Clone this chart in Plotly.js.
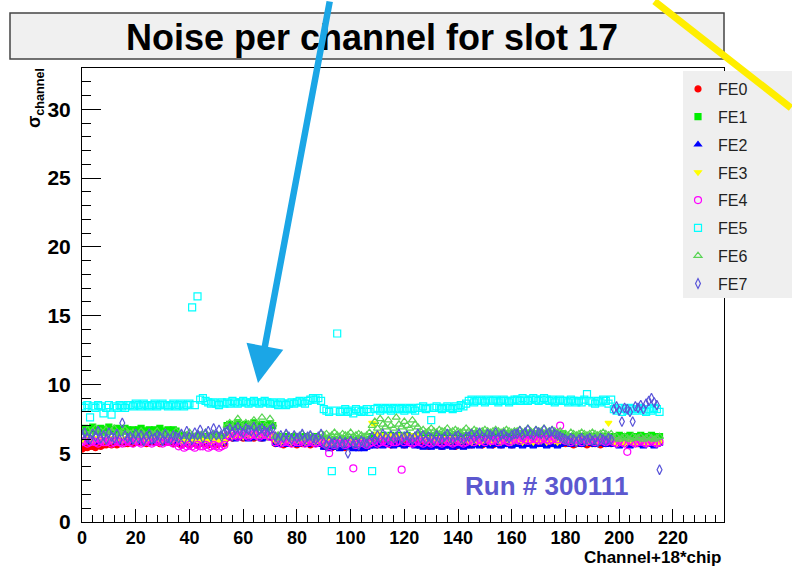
<!DOCTYPE html>
<html>
<head>
<meta charset="utf-8">
<script src="https://cdn.plot.ly/plotly-3.0.1.min.js"></script>
<style>html,body{margin:0;padding:0;background:#fff;}#chart{width:792px;height:568px;}</style>
</head>
<body>
<div id="chart"></div>
<script>
// Channel index = channel + 18*chip (12 chips x 18 channels)
const channels = [
0,1,2,3,4,5,6,7,8,9,10,11,12,13,14,15,16,17,
18,19,20,21,22,23,24,25,26,27,28,29,30,31,32,33,34,35,
36,37,38,39,40,41,42,43,44,45,46,47,48,49,50,51,52,53,
54,55,56,57,58,59,60,61,62,63,64,65,66,67,68,69,70,71,
72,73,74,75,76,77,78,79,80,81,82,83,84,85,86,87,88,89,
90,91,92,93,94,95,96,97,98,99,100,101,102,103,104,105,106,107,
108,109,110,111,112,113,114,115,116,117,118,119,120,121,122,123,124,125,
126,127,128,129,130,131,132,133,134,135,136,137,138,139,140,141,142,143,
144,145,146,147,148,149,150,151,152,153,154,155,156,157,158,159,160,161,
162,163,164,165,166,167,168,169,170,171,172,173,174,175,176,177,178,179,
180,181,182,183,184,185,186,187,188,189,190,191,192,193,194,195,196,197,
198,199,200,201,202,203,204,205,206,207,208,209,210,211,212,213,214,215];

const fe0 = [
5.3,5.4,5.4,5.5,5.5,5.4,5.6,5.5,5.6,5.6,5.7,5.6,5.7,5.6,5.7,5.8,5.7,5.7,
5.8,5.7,5.8,5.9,5.8,5.8,5.7,5.8,5.9,5.8,5.8,5.7,5.8,5.9,5.8,5.8,5.7,5.8,
5.7,5.6,5.7,5.7,5.6,5.8,5.7,5.6,5.7,5.7,5.8,5.6,5.7,5.7,5.6,5.7,5.8,5.7,
6.1,6.2,6.1,6.2,6.3,6.2,6.1,6.2,6.2,6.3,6.1,6.2,6.2,6.1,6.3,6.2,6.2,6.1,
5.7,5.8,5.7,5.6,5.7,5.8,5.7,5.7,5.6,5.8,5.7,5.7,5.8,5.6,5.7,5.7,5.8,5.7,
5.5,5.6,5.5,5.4,5.6,5.5,5.5,5.6,5.4,5.5,5.6,5.5,5.5,5.4,5.6,5.5,5.5,5.6,
5.7,5.8,5.6,5.7,5.8,5.7,5.7,5.6,5.8,5.7,5.7,5.8,5.6,5.7,5.7,5.8,5.7,5.6,
5.6,5.7,5.6,5.5,5.6,5.7,5.6,5.6,5.5,5.7,5.6,5.6,5.7,5.5,5.6,5.6,5.7,5.6,
5.7,5.6,5.7,5.8,5.7,5.6,5.7,5.7,5.8,5.6,5.7,5.7,5.6,5.8,5.7,5.7,5.6,5.7,
5.8,5.9,5.8,5.7,5.9,5.8,5.8,5.9,5.7,5.8,5.9,5.8,5.8,5.7,5.9,5.8,5.8,5.9,
5.7,5.8,5.7,5.6,5.7,5.8,5.7,5.7,5.6,5.8,5.7,5.7,5.8,5.6,5.7,5.7,5.8,5.7,
5.8,5.7,5.8,5.9,5.8,5.7,5.8,5.8,5.9,5.7,5.8,5.8,5.7,5.9,5.8,5.8,5.7,5.8];

const fe1 = [
6.7,6.8,6.6,6.7,6.9,6.6,6.7,6.8,6.6,6.7,6.9,6.7,6.6,6.8,6.7,6.6,6.8,6.7,
6.6,6.7,6.5,6.7,6.8,6.6,6.6,6.7,6.5,6.7,6.6,6.8,6.6,6.5,6.7,6.6,6.7,6.6,
6.2,6.1,6.3,6.2,6.0,6.2,6.1,6.2,6.3,6.1,6.2,6.0,6.2,6.1,6.3,6.2,6.1,6.2,
7.0,7.1,6.9,7.0,7.2,7.0,6.9,7.1,7.0,7.0,7.2,6.9,7.0,7.1,7.0,6.9,7.1,7.0,
6.1,6.2,6.0,6.1,6.2,6.1,6.0,6.2,6.1,6.1,6.0,6.2,6.1,6.0,6.1,6.2,6.1,6.0,
5.9,6.0,5.8,5.9,6.0,5.9,5.8,6.0,5.9,5.9,6.0,5.8,5.9,6.0,5.9,5.8,5.9,6.0,
6.2,6.3,6.1,6.2,6.3,6.2,6.1,6.3,6.2,6.2,6.3,6.1,6.2,6.3,6.2,6.1,6.2,6.3,
6.2,6.1,6.3,6.2,6.1,6.2,6.3,6.2,6.1,6.2,6.3,6.2,6.1,6.2,6.3,6.2,6.1,6.2,
6.3,6.2,6.4,6.3,6.2,6.3,6.4,6.3,6.2,6.3,6.4,6.3,6.2,6.3,6.4,6.3,6.2,6.3,
6.3,6.4,6.2,6.3,6.4,6.3,6.2,6.4,6.3,6.3,6.4,6.2,6.3,6.4,6.3,6.2,6.3,6.4,
6.1,6.0,6.2,6.1,6.0,6.1,6.2,6.1,6.0,6.1,6.2,6.1,6.0,6.1,6.2,6.1,6.0,6.1,
6.2,6.1,6.3,6.2,6.1,6.2,6.3,6.2,6.1,6.2,6.3,6.2,6.1,6.2,6.3,6.2,6.1,6.2];

const fe2 = [
5.9,6.0,5.8,5.9,6.0,5.9,5.8,6.0,5.9,5.9,6.0,5.8,5.9,6.0,5.9,5.8,5.9,6.0,
5.9,5.8,6.0,5.9,5.8,5.9,6.0,5.9,5.8,5.9,6.0,5.9,5.8,5.9,6.0,5.9,5.8,5.9,
5.8,5.7,5.9,5.8,5.7,5.8,5.9,5.8,5.7,5.8,5.9,5.8,5.7,5.8,5.9,5.8,5.7,5.8,
6.1,6.2,6.1,6.0,6.2,6.1,6.1,6.2,6.0,6.1,6.2,6.1,6.1,6.0,6.2,6.1,6.1,6.2,
5.7,5.6,5.8,5.7,5.6,5.7,5.8,5.7,5.6,5.7,5.8,5.7,5.6,5.7,5.8,5.7,5.6,5.7,
5.4,5.5,5.3,5.4,5.5,5.4,5.3,5.5,5.4,5.4,5.5,5.3,5.4,5.3,5.4,5.3,5.4,5.5,
5.6,5.5,5.7,5.6,5.5,5.6,5.7,5.6,5.5,5.6,5.7,5.6,5.5,5.6,5.7,5.6,5.5,5.6,
5.5,5.4,5.6,5.5,5.4,5.5,5.6,5.5,5.4,5.5,5.6,5.5,5.4,5.5,5.6,5.5,5.4,5.5,
5.6,5.5,5.7,5.6,5.5,5.6,5.7,5.6,5.5,5.6,5.7,5.6,5.5,5.6,5.7,5.6,5.5,5.6,
5.6,5.7,5.5,5.6,5.7,5.6,5.5,5.7,5.6,5.6,5.7,5.5,5.6,5.7,5.6,5.5,5.6,5.7,
5.7,5.8,5.6,5.7,5.8,5.7,5.6,5.8,5.7,5.7,5.8,5.6,5.7,5.8,5.7,5.6,5.7,5.8,
5.6,5.7,5.5,5.6,5.7,5.6,5.5,5.7,5.6,5.6,5.7,5.5,5.6,5.7,5.6,5.5,5.6,5.7];

const fe3 = [
6.0,5.9,6.1,6.0,5.9,6.0,6.1,6.0,5.9,6.0,6.1,5.9,6.0,6.1,6.0,5.9,6.0,6.1,
6.0,6.1,5.9,6.0,6.1,6.0,5.9,6.1,6.0,6.0,6.1,5.9,6.0,6.1,6.0,5.9,6.0,6.1,
5.9,5.8,6.0,5.9,5.8,5.9,6.0,5.9,5.8,5.9,6.0,5.9,5.8,5.9,6.0,5.9,5.8,5.9,
6.3,6.4,6.2,6.3,6.4,6.3,6.2,6.4,6.3,6.3,6.4,6.2,6.3,6.4,6.3,6.2,6.3,6.4,
5.9,6.0,5.8,5.9,6.0,5.9,5.8,6.0,5.9,5.9,6.0,5.8,5.9,6.0,5.9,5.8,5.9,6.0,
5.8,5.7,5.9,5.8,5.7,5.8,5.9,5.8,5.7,5.8,5.9,5.8,5.7,5.8,5.9,5.8,5.7,5.8,
7.2,7.1,6.4,6.2,6.3,6.1,6.2,6.3,6.1,6.2,6.3,6.2,6.1,6.2,6.3,6.1,6.2,6.3,
6.0,6.1,5.9,6.0,6.1,6.0,5.9,6.1,6.0,6.0,6.1,5.9,6.0,6.1,6.0,5.9,6.0,6.1,
5.9,5.8,6.0,5.9,5.8,5.9,6.0,5.9,5.8,5.9,6.0,5.9,5.8,5.9,6.0,5.9,5.8,5.9,
5.9,6.0,5.8,5.9,6.0,5.9,5.8,6.0,5.9,5.9,6.0,5.8,5.9,6.0,5.9,5.8,5.9,6.0,
5.9,5.8,6.0,5.9,5.8,5.9,6.0,5.9,5.8,5.9,6.0,5.9,5.8,5.9,6.0,5.9,7.2,5.9,
5.8,5.7,5.9,5.8,5.7,5.8,5.9,5.8,5.7,5.8,5.9,5.8,5.7,5.8,5.9,5.8,5.7,5.8];

const fe4 = [
5.8,5.9,5.7,5.8,5.9,5.8,5.7,5.9,5.8,5.8,5.9,5.7,5.8,5.9,5.8,5.7,5.8,5.9,
5.8,5.7,5.9,5.8,5.7,5.8,5.9,5.8,5.7,5.8,5.9,5.8,5.7,5.8,5.9,5.8,5.7,5.8,
5.5,5.6,5.4,5.5,5.6,5.5,5.4,5.6,5.5,5.5,5.6,5.4,5.5,5.6,5.5,5.4,5.5,5.6,
6.3,6.2,6.4,6.3,6.2,6.3,6.4,6.3,6.2,6.3,6.4,6.3,6.2,6.3,6.4,6.3,6.2,6.3,
5.8,5.9,5.7,5.8,5.9,5.8,5.7,5.9,5.8,5.8,5.9,5.7,5.8,5.9,5.8,5.7,5.8,5.9,
5.7,5.6,5.0,5.7,5.6,5.7,5.8,5.7,5.6,5.7,5.8,3.9,5.6,5.7,5.8,5.7,5.6,5.7,
5.8,5.9,5.7,5.8,5.9,5.8,5.7,5.9,5.8,5.8,5.9,3.8,5.8,5.9,5.8,5.7,5.8,5.9,
5.8,5.7,5.9,5.8,5.7,5.8,5.9,5.8,5.7,5.8,5.9,5.8,5.7,5.8,5.9,5.8,5.7,5.8,
5.9,6.0,5.8,5.9,6.0,5.9,5.8,6.0,5.9,5.9,6.0,5.8,5.9,6.0,5.9,5.8,5.9,6.0,
6.0,5.9,6.1,6.0,5.9,6.0,6.1,6.0,5.9,6.0,6.1,6.0,5.9,6.0,6.1,6.0,7.0,6.0,
5.9,6.0,5.8,5.9,6.0,5.9,5.8,6.0,5.9,5.9,6.0,5.8,5.9,6.0,5.9,5.8,5.9,6.0,
5.8,5.7,5.9,5.8,5.7,5.1,5.9,5.8,5.7,5.8,5.9,5.8,5.7,5.8,5.9,5.8,5.7,5.8];

const fe5 = [
8.4,8.3,8.5,7.6,8.4,8.3,8.5,8.4,7.9,8.3,8.5,7.8,8.4,8.3,8.5,8.4,8.3,8.5,
8.5,8.4,8.6,8.5,8.4,8.6,8.5,8.4,8.5,8.6,8.4,8.5,8.6,8.5,8.4,8.5,8.6,8.4,
8.5,8.6,8.4,8.5,8.6,15.6,8.5,16.4,8.9,9.0,8.8,8.7,8.6,8.7,8.6,8.5,8.7,8.6,
8.7,8.6,8.8,8.7,8.6,8.7,8.8,8.7,8.6,8.7,8.8,8.7,8.6,8.7,8.8,8.7,8.6,8.7,
8.6,8.5,8.7,8.6,8.5,8.6,8.7,8.6,8.7,8.8,8.7,8.6,8.8,8.9,9.0,8.9,9.0,8.8,
8.2,8.1,8.0,3.7,8.1,13.7,8.0,8.1,8.2,8.0,8.1,7.9,8.2,8.1,8.0,8.1,8.2,8.0,
3.7,8.2,8.3,8.1,8.2,8.3,8.2,8.1,8.3,8.2,8.2,8.3,8.1,8.2,8.3,8.2,8.1,8.3,
8.3,8.4,8.2,8.3,7.4,8.3,8.4,8.3,8.2,8.3,8.4,8.3,8.2,8.4,8.3,8.5,8.4,8.6,
8.8,8.9,8.7,8.8,8.9,8.8,8.7,8.9,8.8,8.8,8.9,8.7,8.8,8.9,8.8,8.7,8.8,8.9,
8.9,8.8,9.0,8.9,8.8,8.9,9.0,8.9,8.8,8.9,9.0,8.9,8.8,8.9,8.7,8.8,8.9,8.8,
8.8,8.7,8.9,8.8,8.7,8.8,8.7,8.9,9.3,8.8,8.7,8.6,8.8,8.7,8.9,8.8,8.6,8.9,
8.2,8.1,8.3,8.0,8.2,8.1,8.3,8.2,8.1,8.2,8.3,8.1,8.0,8.2,8.1,8.3,8.2,8.0];

const fe6 = [
6.6,6.5,6.7,6.4,6.6,6.8,6.5,6.6,6.4,6.7,6.5,6.6,6.8,6.5,6.4,6.6,6.7,6.5,
6.4,6.5,6.3,6.4,6.6,6.4,6.3,6.5,6.4,6.4,6.6,6.3,6.4,6.5,6.4,6.3,6.4,6.6,
6.3,6.4,6.2,6.3,6.5,6.3,6.2,6.4,6.3,6.3,6.5,6.2,6.3,6.4,6.3,6.2,6.3,6.5,
7.0,7.2,6.9,7.1,7.5,7.0,6.9,7.2,7.1,7.0,7.4,6.9,7.1,7.6,7.0,6.9,7.5,7.1,
6.2,6.3,6.1,6.2,6.4,6.2,6.1,6.3,6.2,6.2,6.4,6.1,6.2,6.3,6.2,6.1,6.2,6.4,
6.3,6.4,6.2,6.3,6.5,6.3,6.2,6.4,6.3,6.3,6.5,6.2,6.3,6.4,6.3,6.2,6.3,6.5,
7.0,7.3,6.8,7.5,7.1,6.9,7.4,7.0,6.8,7.6,7.1,6.9,7.3,7.0,6.8,7.4,7.1,6.9,
6.6,6.7,6.5,6.6,6.8,6.6,6.5,6.7,6.6,6.6,6.8,6.5,6.6,6.7,6.6,6.5,6.6,6.8,
6.6,6.5,6.7,6.6,6.5,6.6,6.7,6.6,6.5,6.6,6.7,6.6,6.5,6.6,6.7,6.6,6.5,6.6,
6.6,6.7,6.5,6.6,6.8,6.6,6.5,6.7,6.6,6.6,6.8,6.5,6.6,6.7,6.6,6.5,6.6,6.4,
6.4,6.3,6.5,6.4,6.3,6.4,6.5,6.4,6.3,6.4,6.5,6.4,6.3,6.4,6.5,6.4,6.3,6.4,
6.1,6.2,6.0,6.1,6.2,6.1,6.0,6.2,6.1,6.1,6.2,6.0,6.1,6.2,6.1,6.0,6.1,6.2];

const fe7 = [
6.3,6.5,6.1,6.0,6.4,6.2,6.6,6.1,6.3,6.0,6.5,6.2,6.1,6.4,6.0,7.2,6.3,6.1,
6.2,6.0,6.4,6.1,6.3,5.9,6.2,6.4,6.0,6.1,6.3,6.2,5.9,6.4,6.1,6.0,6.3,6.2,
6.1,6.4,6.0,6.6,6.2,6.0,6.5,6.3,6.7,6.1,6.4,6.6,6.2,6.8,6.3,6.7,6.2,6.5,
6.6,6.8,6.5,6.7,6.9,6.6,6.5,6.8,6.7,6.6,6.9,6.5,6.7,6.8,6.6,6.5,6.7,6.8,
6.2,6.0,6.3,6.1,6.4,6.2,6.0,6.3,6.1,6.2,6.4,6.0,6.2,6.3,6.1,6.0,6.2,6.4,
5.8,5.6,5.9,5.7,5.8,5.6,5.9,5.7,5.8,5.0,5.9,5.7,5.8,5.6,5.9,5.8,5.7,5.9,
6.2,6.0,6.3,6.1,6.4,6.2,6.0,6.3,6.1,6.2,6.4,6.0,6.2,6.3,6.1,6.0,6.2,6.4,
6.1,6.3,6.0,6.2,6.1,5.9,6.3,6.1,6.0,6.2,6.4,6.1,6.0,6.2,6.3,6.1,6.0,6.2,
6.2,6.4,6.1,6.3,6.5,6.2,6.1,6.4,6.3,6.2,6.5,6.1,6.3,6.4,6.2,6.1,6.3,6.4,
6.4,6.6,6.3,6.5,6.7,6.4,6.3,6.6,6.5,6.4,6.7,6.3,6.5,6.6,6.4,6.3,6.2,6.1,
6.0,5.9,6.1,6.0,5.8,6.0,6.1,5.9,6.0,6.1,5.9,6.0,5.8,6.1,6.0,5.9,6.1,6.0,
8.2,8.4,8.1,7.3,8.3,8.2,8.0,7.3,8.4,8.3,8.5,8.2,8.6,8.8,9.0,8.7,8.5,3.8];

const seriesNames = ['FE0','FE1','FE2','FE3','FE4','FE5','FE6','FE7'];
const seriesValues = [fe0, fe1, fe2, fe3, fe4, fe5, fe6, fe7];
const seriesColors = ['#ff0000','#00ee00','#0000ff','#ffff00','#ff00ff','#00ffff','#59d454','#5954d9'];
const seriesSymbols = ['circle','square','triangle-up','triangle-down','circle-open','square-open','triangle-up-open','diamond-tall-open'];
const seriesSizes = [6,6,6,6,7,7,7,7];

const xTicks = [0,20,40,60,80,100,120,140,160,180,200,220];
const yTicks = [0,5,10,15,20,25,30];

const traces = seriesNames.map((name, i) => ({
  type: 'scatter', mode: 'markers', name: name, legendgroup: name,
  x: channels, y: seriesValues[i],
  marker: {symbol: seriesSymbols[i], color: seriesColors[i], size: seriesSizes[i], line: {color: seriesColors[i], width: 1.2}},
  cliponaxis: true
}));

const font = 'Liberation Sans, Arial, Helvetica, sans-serif';
const W = 642, H = 454, L = 82, B = 522;
const px = (v) => (v - L) / W;
const py = (v) => (B - v) / H;

const layout = {
  width: 792, height: 568,
  margin: {l: 82, r: 68, t: 68, b: 46, pad: 0},
  paper_bgcolor: '#ffffff', plot_bgcolor: '#ffffff',
  showlegend: true,
  title: {text: 'Noise per channel for slot 17', x: 372/792, xanchor: 'center', y: 1 - 37/568, yanchor: 'middle',
          font: {family: font, size: 36, color: '#000', weight: 'bold'}},
  xaxis: {range: [0, 239], tickvals: xTicks, ticktext: xTicks.map(String), ticks: 'inside', ticklen: 13, tickwidth: 1, tickcolor: '#000',
          showline: true, linecolor: '#000', linewidth: 1, mirror: true, showgrid: false, zeroline: false, ticklabelstandoff: -1,
          minor: {dtick: 4, tick0: 0, ticks: 'inside', ticklen: 7, tickcolor: '#000', showgrid: false},
          tickfont: {family: font, size: 18, color: '#000', weight: 'bold'}},
  yaxis: {range: [0, 33], tickvals: yTicks, ticktext: yTicks.map(String), ticks: 'inside', ticklen: 19, tickwidth: 1, tickcolor: '#000',
          showline: true, linecolor: '#000', linewidth: 1, mirror: true, showgrid: false, zeroline: false, ticklabelstandoff: 6,
          minor: {dtick: 1, tick0: 0, ticks: 'inside', ticklen: 9, tickcolor: '#000', showgrid: false},
          tickfont: {family: font, size: 21, color: '#000', weight: 'bold'}},
  legend: {x: px(678), y: py(72), xanchor: 'left', yanchor: 'top', bgcolor: 'rgba(0,0,0,0)', borderwidth: 0,
           tracegroupgap: 4, font: {family: font, size: 16, color: '#222'}, itemsizing: 'trace'},
  shapes: [
    {type: 'rect', xref: 'paper', yref: 'paper', x0: px(10), x1: px(724), y0: py(59), y1: py(13),
     fillcolor: '#f0f0f0', line: {color: '#444', width: 1.5}, layer: 'below'},
    {type: 'rect', xref: 'paper', yref: 'paper', x0: px(683), x1: px(795), y0: py(298), y1: py(71),
     fillcolor: '#efefef', line: {width: 0}, layer: 'above'}
  ],
  annotations: [
    {xref: 'paper', yref: 'paper', x: px(36), y: py(66), xanchor: 'center', yanchor: 'top', textangle: -90, showarrow: false,
     text: 'σ<sub>channel</sub>', font: {family: font, size: 18, color: '#000', weight: 'bold'}},
    {xref: 'paper', yref: 'paper', x: px(723), y: py(557), xanchor: 'right', yanchor: 'middle', showarrow: false,
     text: 'Channel+18*chip', font: {family: font, size: 17, color: '#000', weight: 'bold'}},
    {xref: 'paper', yref: 'paper', x: px(546), y: py(486), xanchor: 'center', yanchor: 'middle', showarrow: false,
     text: 'Run # 300111', font: {family: font, size: 26, color: '#5c58cf', weight: 'bold'}},
    {xref: 'paper', yref: 'paper', x: px(258), y: py(383), text: '', showarrow: true, arrowhead: 2, arrowsize: 1.15,
     arrowwidth: 6.5, arrowcolor: '#1ba6e6', ax: 72, ay: -392, standoff: 0},
    {xref: 'paper', yref: 'paper', x: px(800), y: py(108), text: '', showarrow: true, arrowhead: 0,
     arrowwidth: 7, arrowcolor: '#ffee00', ax: -147, ay: -115, standoff: 0}
  ]
};

Plotly.newPlot('chart', traces, layout, {displayModeBar: false, staticPlot: true});
</script>
</body>
</html>
